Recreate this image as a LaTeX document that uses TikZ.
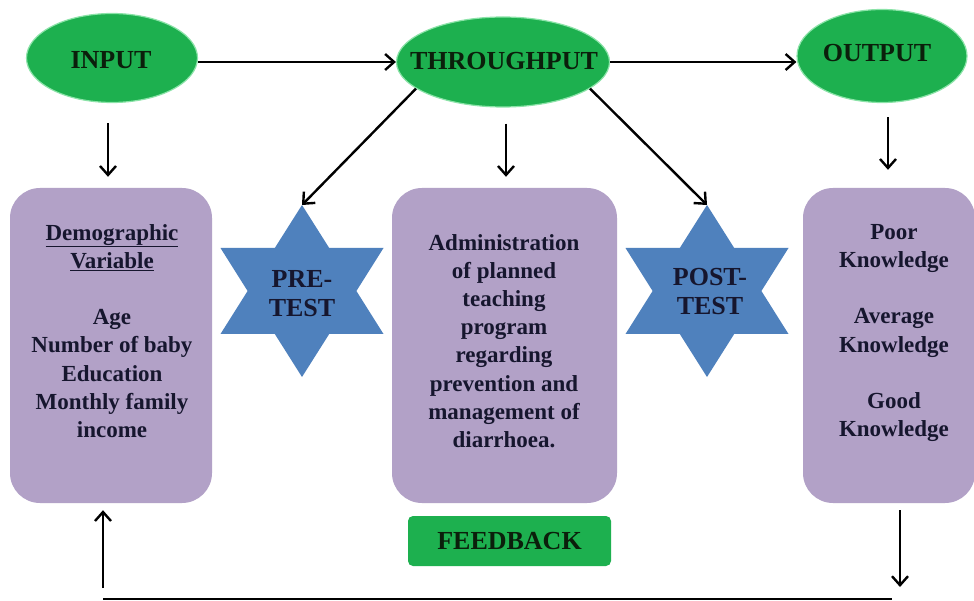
\documentclass[tikz,border=0pt]{standalone}
\usepackage{fontspec}
\setmainfont{Liberation Serif}
\usetikzlibrary{shapes.geometric,arrows.meta,calc}
\definecolor{egreen}{HTML}{1DB04F}
\definecolor{ehalo}{HTML}{8BE3A8}
\definecolor{lav}{HTML}{B2A1C7}
\definecolor{starblue}{HTML}{4F81BD}
\definecolor{navy}{HTML}{16162E}
\definecolor{dkgreen}{HTML}{0B1F0B}
\tikzset{hexstar/.pic={\fill[starblue] (0,-86) -- (27.2,-43) -- (81.5,-43) -- (54.4,0) -- (81.5,43) -- (27.2,43) -- (0,86) -- (-27.2,43) -- (-81.5,43) -- (-54.4,0) -- (-81.5,-43) -- (-27.2,-43) -- cycle;}}
\begin{document}
\begin{tikzpicture}[x=1pt,y=-1pt,
  arr/.style={line width=2.4pt, -{Straight Barb[length=9pt,width=16pt,line width=2.4pt]}},
  ell/.style={ellipse, fill=egreen, draw=ehalo, line width=1.2pt, inner sep=0pt},
  etext/.style={font=\fontsize{26}{30}\selectfont\bfseries, text=dkgreen, inner sep=0pt},
  pbox/.style={rectangle, rounded corners=30pt, fill=lav, minimum height=315pt},
  btext/.style={align=center, font=\fontsize{23}{28.2}\selectfont\bfseries, text=navy, inner sep=0pt},
  stext/.style={align=center, font=\fontsize{26}{29}\selectfont\bfseries, text=navy, inner sep=0pt},
]
\clip (0,0) rectangle (974,601);
\fill[white] (0,0) rectangle (974,601);
% ellipses
\node[ell, minimum width=171pt, minimum height=89pt] (input) at (112,58) {};
\node[etext] (inputT) at (111,60) {INPUT};
\node[ell, minimum width=213pt, minimum height=90pt] (through) at (503,62) {};
\node[etext] (throughT) at (504,61) {THROUGHPUT};
\node[ell, minimum width=170pt, minimum height=93pt] (output) at (882,56) {};
\node[etext] (outputT) at (877,53) {OUTPUT};
% boxes
\node[pbox, minimum width=202pt] (lbox) at (111,345.5) {};
\node[pbox, minimum width=225pt] (mbox) at (504.5,345.5) {};
\node[pbox, minimum width=172pt] (rbox) at (889,345.5) {};
\node[btext] (ltext) at (112,331) {\underline{Demographic}\\\underline{Variable}\\[28.2pt]Age\\Number of baby\\Education\\Monthly family\\income};
\node[btext] (mtext) at (504,341) {Administration\\of planned\\teaching\\program\\regarding\\prevention and\\management of\\diarrhoea.};
\node[btext] (rtext) at (894,333) {Poor\\Knowledge\\[28.2pt]Average\\Knowledge\\[28.2pt]Good\\Knowledge};
% stars
\pic at (302,291) {hexstar};
\coordinate (pretop) at (302,205);
\node[stext] (pre) at (302,294) {PRE-\\TEST};
\pic at (707,291) {hexstar};
\coordinate (posttop) at (707,205);
\node[stext] (post) at (710,292) {POST-\\TEST};
% feedback
\node[rectangle, rounded corners=5pt, fill=egreen, minimum width=203pt, minimum height=50pt, font=\fontsize{26}{30}\selectfont\bfseries, text=dkgreen] (fb) at (509.5,541) {FEEDBACK};
% connectors
\draw[arr] (input.east |- through.west) -- (through.west);
\draw[arr] (through.east) -- (through.east -| output.west);
\draw[arr, shorten <=20pt, shorten >=11pt] ([xshift=-4pt]input.south) -- ([xshift=-4pt]input.south |- lbox.north);
\draw[arr, shorten <=16pt, shorten >=11pt] ([xshift=3pt]through.south) -- ([xshift=3pt]through.south |- mbox.north);
\draw[arr, shorten <=14pt, shorten >=18pt] ([xshift=6pt]output.south) -- ([xshift=6pt]output.south |- rbox.north);
\draw[arr] (through.197) -- (pretop);
\draw[arr] (through.343) -- (posttop);
% feedback loop
\coordinate (fbl) at (103,588);
\coordinate (fbr) at (900,587);
\coordinate (linel) at (103,599);
\coordinate (liner) at (892,599);
\draw[arr, shorten >=7pt] (fbl) -- (fbl |- lbox.south);
\draw[arr, shorten <=7pt] (fbr |- rbox.south) -- (fbr);
\draw[line width=2.4pt] (linel) -- (liner);
\end{tikzpicture}
\end{document}
